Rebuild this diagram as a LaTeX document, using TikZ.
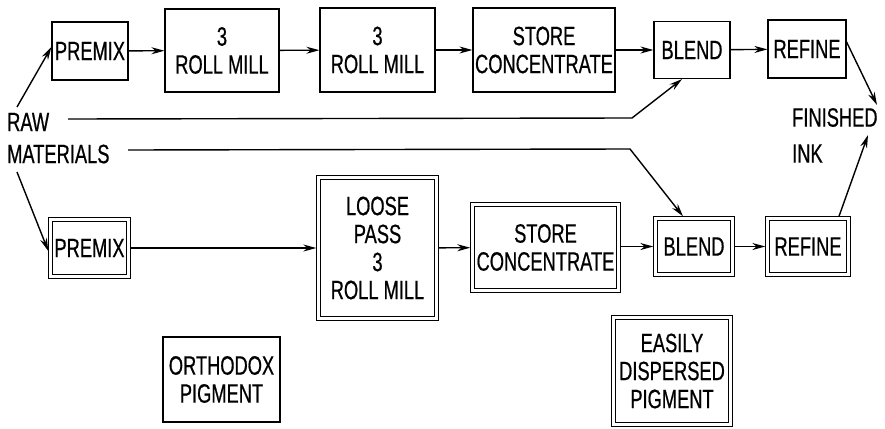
\documentclass[tikz,border=0pt]{standalone}
\usepackage{fontspec}
\setmainfont[FakeStretch=0.69,FakeBold=0.6]{Liberation Sans}
\usetikzlibrary{arrows.meta,calc}
\begin{document}
\begin{tikzpicture}[x=1pt,y=-1pt,
  every node/.style={font=\fontsize{26.5}{28}\selectfont, align=center, inner sep=0pt},
  sbox/.style={draw, line width=1.2pt, rectangle},
  dbox/.style={draw, line width=1pt, double, double distance=2.4pt, rectangle, outer sep=2.2pt},
  lbl/.style={anchor=west},
  conn/.style={line width=1.4pt, -{Stealth[length=13pt,width=7pt]}}
]
\useasboundingbox (0,0) rectangle (885,428);
% top row
\node[sbox, minimum width=76pt, minimum height=58pt] (p1) at (90,51) {PREMIX};
\node[sbox, minimum width=114pt, minimum height=83pt] (m1) at (222,50.5) {3\\ROLL MILL};
\node[sbox, minimum width=115pt, minimum height=84pt] (m2) at (377.5,50) {3\\ROLL MILL};
\node[sbox, minimum width=142pt, minimum height=84pt] (s1) at (544,50) {STORE\\CONCENTRATE};
\node[sbox, minimum width=76pt, minimum height=57pt] (b1) at (692,50) {BLEND};
\node[sbox, minimum width=78pt, minimum height=58pt] (r1) at (807,49) {REFINE};
% bottom row
\node[dbox, minimum width=78pt, minimum height=57pt] (p2) at (89.5,248) {PREMIX};
\node[dbox, minimum width=118pt, minimum height=141pt] (l) at (377.5,248) {LOOSE\\PASS\\3\\ROLL MILL};
\node[dbox, minimum width=146pt, minimum height=86pt] (s2) at (545.5,247.5) {STORE\\CONCENTRATE};
\node[dbox, minimum width=77pt, minimum height=56pt] (b2) at (694,246.5) {BLEND};
\node[dbox, minimum width=81pt, minimum height=56pt] (r2) at (808,246.5) {REFINE};
% pigment boxes
\node[sbox, minimum width=117pt, minimum height=85pt] (o) at (221.5,379.5) {ORTHODOX\\PIGMENT};
\node[dbox, minimum width=117pt, minimum height=107pt] (e) at (672,371) {EASILY\\DISPERSED\\PIGMENT};
% labels
\node[lbl] (raw) at (7,122) {RAW};
\node[lbl] (mat) at (7,154) {MATERIALS};
\node[lbl] (fin) at (792,117.5) {FINISHED};
\node[lbl] (ink) at (792,153.5) {INK};
% coordinates
\coordinate (rawtop) at (17,107);
\coordinate (matbot) at (17,172);
\coordinate (rawr) at (68,119);
\coordinate (rawk) at (632,118);
\coordinate (matr) at (128,150);
\coordinate (matk) at (630,149);
\coordinate (fintop) at (877,105);
\coordinate (finbot) at (868,135);
% connectors top
\draw[conn] (rawtop) -- ($(p1.west)+(0,-4)$);
\draw[conn] (p1) -- (m1);
\draw[conn] (m1) -- (m2);
\draw[conn] (m2) -- (s1);
\draw[conn] (s1.east |- b1.west) -- (b1.west);
\draw[conn] (b1) -- (r1);
\draw[conn] ($(r1.east)+(0,-7)$) -- (fintop);
\draw[conn] (rawr) -- (rawk) -- ($(b1.south)+(-10,0)$);
% connectors bottom
\draw[conn] (matbot) -- ($(p2.west)+(0,3)$);
\draw[conn] (p2) -- (l);
\draw[conn] (l) -- (s2);
\draw[conn] (s2.east |- b2.west) -- (b2.west);
\draw[conn] (b2) -- (r2);
\draw[conn] (matr) -- (matk) -- ($(b2.north)+(-11,0)$);
\draw[conn] ($(r2.north)+(31,0)$) -- (finbot);
\end{tikzpicture}
\end{document}
